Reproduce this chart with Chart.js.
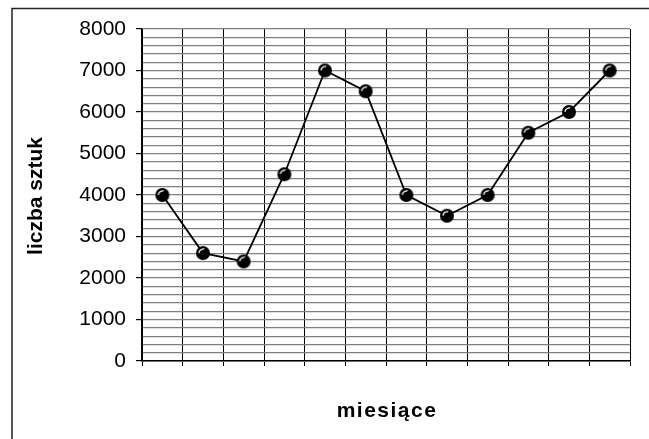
<!DOCTYPE html>
<html>
<head>
<meta charset="utf-8">
<script src="https://cdn.jsdelivr.net/npm/chart.js@4/dist/chart.umd.min.js"></script>
<style>
  html, body { margin: 0; padding: 0; background: #fff; }
  #wrap { width: 649px; height: 439px; position: relative; }
</style>
</head>
<body>
<div id="wrap"><canvas id="c" width="649" height="439"></canvas></div>
<script>
// Monthly sales: number of units per month
const months = ['sty', 'lut', 'mar', 'kwi', 'maj', 'cze', 'lip', 'sie', 'wrz', 'paź', 'lis', 'gru'];
const units = [4000, 2600, 2400, 4500, 7000, 6500, 4000, 3500, 4000, 5500, 6000, 7000];
const yMin = 0;
const yMax = 8000;
const yMajor = 1000;
const yMinor = 200;
const yTitle = 'liczba sztuk';
const xTitle = 'miesiące';

const FONT = '"Liberation Sans", Arial, sans-serif';

// Glossy black ball used as the point marker
function makeBall(r) {
  const s = Math.ceil(r * 2 + 2);
  const cv = document.createElement('canvas');
  cv.width = s; cv.height = s;
  const g = cv.getContext('2d');
  const c = s / 2;
  g.fillStyle = '#000';
  g.beginPath(); g.arc(c, c, r, 0, Math.PI * 2); g.fill();
  g.strokeStyle = '#fff';
  g.lineWidth = 1.2;
  g.beginPath(); g.arc(c + 0.6, c + 0.6, r - 2.2, Math.PI * 1.05, Math.PI * 1.55); g.stroke();
  return cv;
}
const ball = makeBall(7);

// Frame and axis titles
const decor = {
  id: 'decor',
  beforeDraw(chart) {
    const ctx = chart.ctx;
    ctx.save();
    ctx.strokeStyle = '#222';
    ctx.lineWidth = 1.5;
    ctx.beginPath();
    ctx.moveTo(12, 439);
    ctx.lineTo(12, 8.5);
    ctx.lineTo(649, 8.5);
    ctx.stroke();
    ctx.restore();
  },
  afterDraw(chart) {
    const ctx = chart.ctx;
    const a = chart.chartArea;
    ctx.save();
    ctx.fillStyle = '#000';
    ctx.font = 'bold 21px ' + FONT;
    ctx.textAlign = 'center';
    ctx.textBaseline = 'middle';
    ctx.translate(36, (a.top + a.bottom) / 2 + 1);
    ctx.rotate(-Math.PI / 2);
    ctx.fillText(yTitle, 0, 0);
    ctx.restore();

    ctx.save();
    ctx.fillStyle = '#000';
    ctx.font = 'bold 21px ' + FONT;
    ctx.textAlign = 'center';
    ctx.textBaseline = 'middle';
    if ('letterSpacing' in ctx) ctx.letterSpacing = '1.5px';
    ctx.fillText(xTitle, (a.left + a.right) / 2 + 1, 411);
    ctx.restore();
  }
};

new Chart(document.getElementById('c'), {
  type: 'line',
  data: {
    labels: months,
    datasets: [{
      data: units,
      borderColor: '#000',
      borderWidth: 1.8,
      tension: 0,
      pointStyle: ball,
      pointRadius: 7,
      pointHoverRadius: 7
    }]
  },
  options: {
    responsive: false,
    animation: false,
    devicePixelRatio: 1,
    layout: { padding: { top: 29, right: 19, left: 0, bottom: 0 } },
    plugins: { legend: { display: false }, tooltip: { enabled: false }, title: { display: false } },
    scales: {
      x: {
        offset: true,
        afterFit(scale) { scale.height = 439 - 361; },
        grid: {
          offset: true,
          color: (ctx) => ctx.index === months.length ? '#808080' : '#000',
          lineWidth: 1,
          tickLength: 5,
          tickColor: '#000',
          drawOnChartArea: true
        },
        border: { color: '#000', width: 1.5 },
        ticks: { callback: () => '', padding: 0 }
      },
      y: {
        min: yMin,
        max: yMax,
        afterFit(scale) { scale.width = 142; },
        ticks: {
          stepSize: yMinor,
          autoSkip: false,
          color: '#000',
          font: { family: FONT, size: 21 },
          padding: 10,
          callback: (v) => (v % yMajor === 0 ? String(v) : '')
        },
        grid: {
          color: '#808080',
          lineWidth: 1.2,
          tickLength: 6,
          tickColor: (ctx) => (ctx.tick && ctx.tick.value % yMajor === 0 ? '#000' : 'rgba(0,0,0,0)')
        },
        border: { color: '#000', width: 1.5 }
      }
    }
  },
  plugins: [decor]
});
</script>
</body>
</html>
